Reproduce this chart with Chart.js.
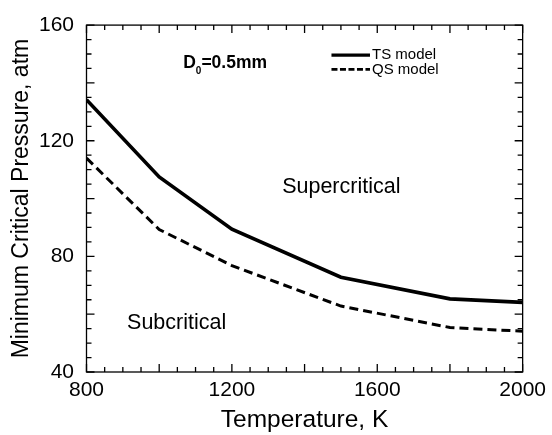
<!DOCTYPE html>
<html>
<head>
<meta charset="utf-8">
<script src="https://cdn.jsdelivr.net/npm/chart.js@4/dist/chart.umd.min.js"></script>
<style>
  html, body { margin: 0; padding: 0; background: #fff; }
  #wrap { width: 552px; height: 435px; }
</style>
</head>
<body>
<div id="wrap"><canvas id="chart" width="552" height="435"></canvas></div>
<script>
// temperatures, K
var temps = [800, 1000, 1200, 1500, 1800, 2000]
// minimum critical pressure, atm
var tsModel = [134.2, 107.5, 89.4, 72.8, 65.3, 64.1]
var qsModel = [114, 89.3, 76.8, 62.8, 55.4, 54.1]

var seriesNames = ['TS model', 'QS model']
var xTitle = 'Temperature, K'
var yTitle = 'Minimum Critical Pressure, atm'
var font = '"Liberation Sans", Arial, Helvetica, sans-serif'

function pts(xs, ys) {
  return xs.map(function(x, i) { return {x: x, y: ys[i]} })
}

// inward ticks on all four sides + frame + text labels
var decor = {
  id: 'decor',
  afterDraw: function(chart) {
    var ctx = chart.ctx
    var a = chart.chartArea
    var xs = chart.scales.x, ys = chart.scales.y
    ctx.save()
    ctx.strokeStyle = '#000'
    ctx.lineWidth = 1.3
    ctx.strokeRect(a.left, a.top, a.right - a.left, a.bottom - a.top)

    ctx.beginPath()
    for (var t = 800; t <= 2000; t += 50) {
      var len = (t % 200 === 0) ? 8 : 5
      var px = xs.getPixelForValue(t)
      ctx.moveTo(px, a.bottom); ctx.lineTo(px, a.bottom - len)
      ctx.moveTo(px, a.top); ctx.lineTo(px, a.top + len)
    }
    for (var p = 40; p <= 160; p += 5) {
      var l2 = (p % 20 === 0) ? 8 : 5
      var py = ys.getPixelForValue(p)
      ctx.moveTo(a.left, py); ctx.lineTo(a.left + l2, py)
      ctx.moveTo(a.right, py); ctx.lineTo(a.right - l2, py)
    }
    ctx.stroke()

    // region labels
    ctx.fillStyle = '#000'
    ctx.textAlign = 'center'
    ctx.textBaseline = 'alphabetic'
    ctx.font = '21.5px ' + font
    ctx.fillText('Supercritical', xs.getPixelForValue(1501), ys.getPixelForValue(101.9))
    ctx.fillText('Subcritical', xs.getPixelForValue(1048), ys.getPixelForValue(55.0))

    // D0 label
    ctx.textAlign = 'left'
    ctx.font = 'bold 17.5px ' + font
    var dx = xs.getPixelForValue(1066), dy = ys.getPixelForValue(145.0)
    ctx.fillText('D', dx, dy)
    var w = ctx.measureText('D').width
    ctx.font = 'bold 10px ' + font
    ctx.fillText('0', dx + w, dy + 6)
    var w2 = ctx.measureText('0').width
    ctx.font = 'bold 17.5px ' + font
    ctx.fillText('=0.5mm', dx + w + w2, dy)

    // legend
    var lx0 = xs.getPixelForValue(1474), lx1 = xs.getPixelForValue(1580)
    var r1 = ys.getPixelForValue(149.6), r2 = ys.getPixelForValue(144.7)
    ctx.lineWidth = 3.2
    ctx.beginPath(); ctx.moveTo(lx0, r1); ctx.lineTo(lx1, r1); ctx.stroke()
    ctx.lineWidth = 2.6
    ctx.setLineDash([6, 2.5])
    ctx.beginPath(); ctx.moveTo(lx0, r2); ctx.lineTo(lx1, r2); ctx.stroke()
    ctx.setLineDash([])
    ctx.textBaseline = 'middle'
    ctx.font = '15px ' + font
    ctx.fillText(seriesNames[0], lx1 + 2, r1)
    ctx.fillText(seriesNames[1], lx1 + 2, r2 + 1)
    ctx.restore()
  }
}

var ctx = document.getElementById('chart')
var chart = new Chart(ctx, {
  type: 'line',
  data: {
    datasets: [{
      label: seriesNames[0],
      data: pts(temps, tsModel),
      borderColor: '#000',
      borderWidth: 3.6,
      pointRadius: 0,
      tension: 0,
      fill: false
    }, {
      label: seriesNames[1],
      data: pts(temps, qsModel),
      borderColor: '#000',
      borderWidth: 3,
      borderDash: [9, 5],
      pointRadius: 0,
      tension: 0,
      fill: false
    }]
  },
  options: {
    responsive: false,
    animation: false,
    layout: { padding: { left: 8, right: 25.5, top: 20, bottom: 0 } },
    plugins: {
      legend: { display: false },
      tooltip: { enabled: false }
    },
    scales: {
      x: {
        type: 'linear',
        min: 800,
        max: 2000,
        grid: { display: false, drawTicks: false },
        border: { display: false },
        ticks: {
          stepSize: 400,
          color: '#000',
          padding: 6,
          maxRotation: 0,
          callback: function(v) { return String(v) },
          font: { family: font, size: 21 }
        },
        title: {
          display: true,
          text: xTitle,
          color: '#000',
          padding: { top: 0, bottom: 0 },
          font: { family: font, size: 24.5 }
        },
        afterFit: function(s) { s.height = 63 }
      },
      y: {
        min: 40,
        max: 160,
        grid: { display: false, drawTicks: false },
        border: { display: false },
        ticks: {
          stepSize: 40,
          color: '#000',
          padding: 12.5,
          font: { family: font, size: 21 }
        },
        title: {
          display: true,
          text: yTitle,
          color: '#000',
          padding: { top: 0, bottom: 0 },
          font: { family: font, size: 23 }
        },
        afterFit: function(s) { s.width = 78.5 }
      }
    }
  },
  plugins: [decor]
})
</script>
</body>
</html>
